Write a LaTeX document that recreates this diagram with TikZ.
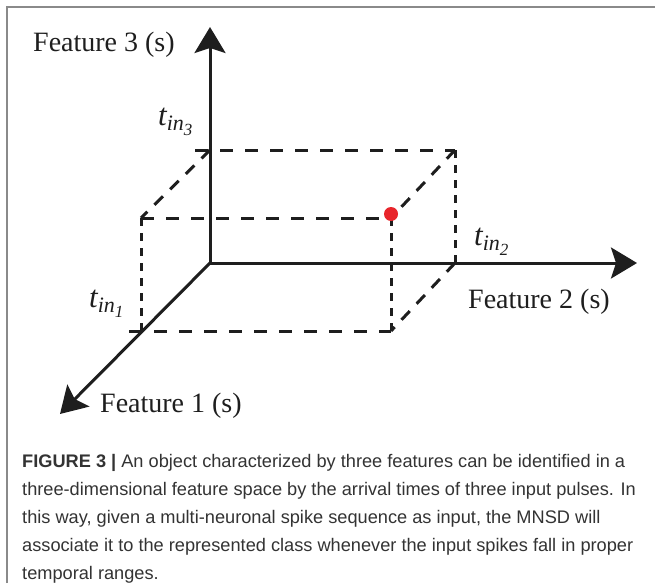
\documentclass[tikz,border=0pt]{standalone}
\usepackage{fontspec}
\setmainfont{Liberation Serif}
\newfontfamily\capfont{Liberation Sans}
\usetikzlibrary{arrows.meta}
\definecolor{dotred}{HTML}{E8252B}
\definecolor{framegray}{HTML}{8A8A8A}
\definecolor{captext}{HTML}{333333}
\definecolor{ink}{HTML}{1E1E1E}
\newcommand\tinlab[1]{{\fontsize{31}{31}\selectfont\itshape t}\raisebox{-5pt}{\fontsize{22}{22}\selectfont\itshape in\raisebox{-5pt}{\fontsize{17}{17}\selectfont #1}}}
\tikzset{
  axisline/.style={draw=ink, line width=3pt, -{Stealth[length=26pt,width=31pt,inset=5pt]}},
  hdash/.style={draw=ink, line width=3pt, dash pattern=on 13pt off 12pt},
  vdash/.style={draw=ink, line width=3pt, dash pattern=on 8pt off 7pt},
  ddash/.style={draw=ink, line width=3pt, dash pattern=on 12pt off 10pt},
  featlab/.style={anchor=base west, inner sep=0pt, text=ink, font=\fontsize{28}{28}\selectfont},
  tlab/.style={anchor=base west, inner sep=0pt, text=ink},
  capline/.style={anchor=base west, inner sep=0pt, text=captext, font=\capfont\fontsize{18.2}{28}\selectfont},
  framestyle/.style={draw=framegray, line width=1.5pt}
}
\begin{document}
\begin{tikzpicture}[x=1pt,y=-1pt]
\useasboundingbox (0,0) rectangle (655,583);
\fill[white] (0,0) rectangle (655,583);
\draw[framestyle] (7,583) -- (7,7) -- (655,7);
% key points
\coordinate (O) at (210,263);
\coordinate (ztip) at (210,27);
\coordinate (ytip) at (637,263);
\coordinate (xtip) at (60,414);
\coordinate (t3) at (210,150);
\coordinate (t2) at (455,263);
\coordinate (t1) at (141,331);
\coordinate (A) at (141,218);
\coordinate (B) at (455,150);
\coordinate (P) at (391,218);
\coordinate (C) at (391,331);
\coordinate (t3s) at (195,150);
\coordinate (t1s) at (129,331);
% dashed box
\draw[hdash] (t3s) -- (B);
\draw[hdash] (A) -- (P);
\draw[hdash] (t1s) -- (C);
\draw[vdash] (A) -- (t1);
\draw[vdash] (P) -- (C);
\draw[vdash] (B) -- (t2);
\draw[ddash] (t3) -- (A);
\draw[ddash] (B) -- (P);
\draw[ddash] (t2) -- (C);
% axes
\draw[axisline] (O) -- (ztip);
\draw[axisline] (O) -- (ytip);
\draw[axisline] (O) -- (xtip);
% point
\node[circle, fill=dotred, inner sep=0pt, minimum size=14pt] (dot) at (391,214) {};
% labels
\node[featlab] (f3) at (33,52) {Feature 3 (s)};
\node[featlab] (f2) at (468,308) {Feature 2 (s)};
\node[featlab] (f1) at (100,412) {Feature 1 (s)};
\node[tlab] (l3) at (158,125) {\tinlab{3}};
\node[tlab] (l2) at (474,245) {\tinlab{2}};
\node[tlab] (l1) at (89,307) {\tinlab{1}};
% caption
\node[capline] (c1) at (22,467) {\textbf{FIGURE 3 |} An object characterized by three features can be identified in a};
\node[capline] (c2) at (22,495) {three-dimensional feature space by the arrival times of three input pulses. In};
\node[capline] (c3) at (22,523) {this way, given a multi-neuronal spike sequence as input, the MNSD will};
\node[capline] (c4) at (22,551) {associate it to the represented class whenever the input spikes fall in proper};
\node[capline] (c5) at (22,579) {temporal ranges.};
\end{tikzpicture}
\end{document}
